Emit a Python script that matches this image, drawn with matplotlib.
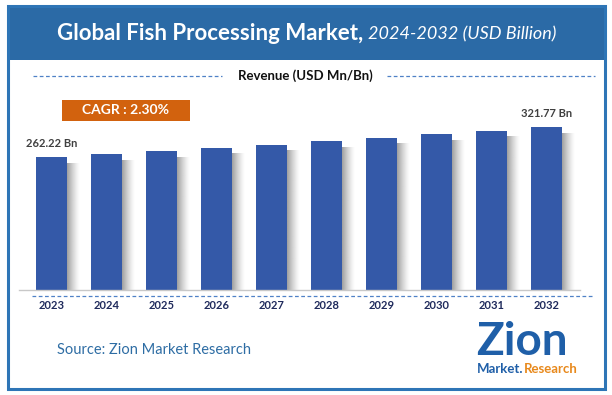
import matplotlib
matplotlib.use("Agg")
import matplotlib.pyplot as plt
import numpy as np
from matplotlib.patches import Rectangle
from matplotlib.lines import Line2D

# data
years = ["2023", "2024", "2025", "2026", "2027", "2028", "2029", "2030", "2031", "2032"]
revenue = [262.22, 268.3, 274.4, 280.7, 287.2, 293.8, 300.5, 307.5, 314.5, 321.77]
first_label = "262.22 Bn"
last_label = "321.77 Bn"

W, H = 612, 395
BAR = "#3459a8"
BLUE = "#2b6aa6"

plt.rcParams['font.family'] = ['Lato', 'DejaVu Sans']

fig = plt.figure(figsize=(W / 100, H / 100), dpi=100)


def fx(px):
    return px / W


def fy(py):
    return 1 - py / H


# frame + title band
fig.add_artist(Rectangle((fx(8), fy(60)), fx(597), 54 / H, transform=fig.transFigure,
                         facecolor=BLUE, edgecolor="none"))
fig.add_artist(Rectangle((fx(8), fy(389)), fx(597), 383 / H, transform=fig.transFigure,
                         facecolor="none", edgecolor="#2e75b6", linewidth=2.2))

t1 = fig.text(fx(57), fy(34), "Global Fish Processing Market,", color="white",
              fontsize=16, fontweight="bold", va="center", ha="left")
fig.canvas.draw()
bb = t1.get_window_extent()
fig.text(bb.x1 / W + fx(5), fy(34), "2024-2032 (USD Billion)", color="white",
         fontsize=13, style="italic", va="center", ha="left")

# revenue header with dashed rules
fig.text(fx(305), fy(76), "Revenue (USD Mn/Bn)", fontsize=9.5, fontweight="bold",
         ha="center", va="center", color="#111111")
for x0, x1 in [(33, 222), (387, 595)]:
    fig.add_artist(Line2D([fx(x0), fx(x1)], [fy(76), fy(76)], transform=fig.transFigure,
                          color="#4f81c7", linewidth=0.9, linestyle=(0, (3, 2))))

# CAGR badge
fig.add_artist(Rectangle((fx(62), fy(121)), fx(128), 21 / H, transform=fig.transFigure,
                         facecolor="#d2620e", edgecolor="none"))
fig.text(fx(126), fy(110.5), "CAGR : 2.30%", color="white", fontsize=10,
         fontweight="bold", ha="center", va="center")

# bars
ax = fig.add_axes([fx(18.5), fy(290), fx(561), 190 / H])
xs = list(range(len(years)))
bw = 0.57

# soft shadow on the right of each bar (grey fading to white)
grad = np.zeros((1, 64, 4))
grad[..., :3] = 0.4
grad[..., 3] = np.linspace(0.7, 0.0, 64) ** 1.3
for x, v in zip(xs, revenue):
    ax.imshow(grad, extent=(x + bw / 2 - 0.01, x + bw / 2 + 0.21, 0, v - 12),
              aspect="auto", interpolation="bilinear", zorder=1)
ax.bar(xs, revenue, width=bw, color=BAR, linewidth=0, zorder=2)

ax.set_xlim(-0.6, 9.6)
ax.set_ylim(0, 190 / 0.5066)

ax.annotate(first_label, (xs[0], revenue[0]), xytext=(0, 6), textcoords="offset points",
            ha="center", va="bottom", fontsize=8, fontweight="bold", color="#404040")
ax.annotate(last_label, (xs[-1], revenue[-1]), xytext=(0, 6), textcoords="offset points",
            ha="center", va="bottom", fontsize=8, fontweight="bold", color="#404040")

ax.set_xticks(xs)
ax.set_xticklabels(years, fontsize=8, fontweight="bold", color="#1f2a5c")
ax.tick_params(axis="x", length=0, pad=7.5)
ax.set_yticks([])
for side in ["top", "right", "left"]:
    ax.spines[side].set_visible(False)
ax.spines["bottom"].set_color("#c8c8c8")
ax.spines["bottom"].set_linewidth(1)
ax.set_facecolor("none")

fig.add_artist(Line2D([fx(32), fx(593)], [fy(295.5), fy(295.5)], transform=fig.transFigure,
                      color="#4f81c7", linewidth=0.9, linestyle=(0, (3, 2))))

# source + logo
fig.text(fx(57), fy(350), "Source: Zion Market Research", fontsize=10.5,
         color="#2e6da4", ha="left", va="center")
fig.text(fx(476), fy(342), "Zion", fontsize=33, fontweight="bold", color="#1f5fa8",
         ha="left", va="center")
m = fig.text(fx(477), fy(369), "Market.", fontsize=9.5, fontweight="bold", color="#1f5fa8",
             ha="left", va="center")
fig.canvas.draw()
mb = m.get_window_extent()
fig.text(mb.x1 / W, fy(369), "Research", fontsize=9.5, fontweight="bold", color="#e8891c",
         ha="left", va="center")

fig.savefig("out.png", dpi=100)
